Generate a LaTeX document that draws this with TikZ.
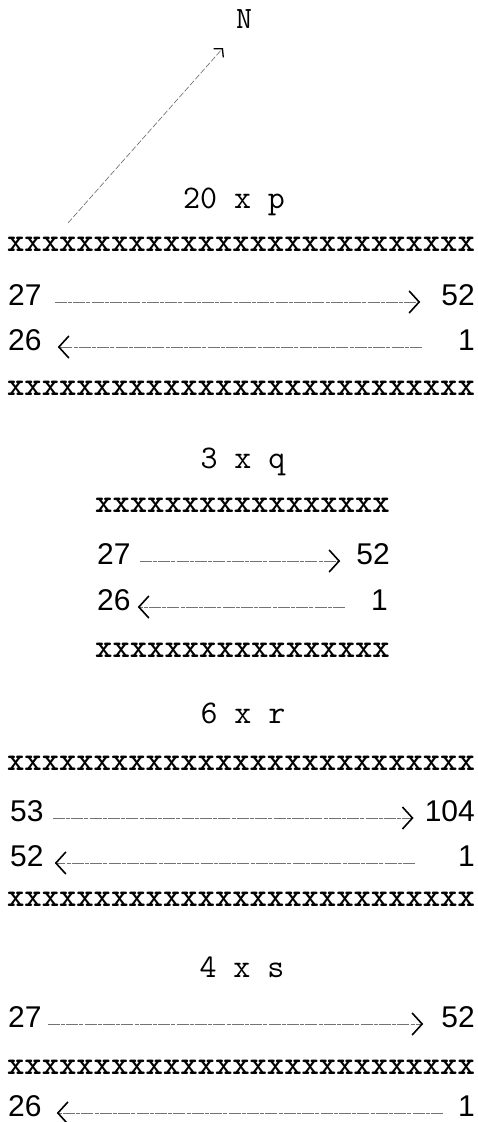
\documentclass[tikz,border=0pt]{standalone}
\usepackage{fontspec}
\newfontfamily\numfont{Liberation Sans}
\usetikzlibrary{arrows.meta}
\tikzset{
  xrow/.style={inner sep=0pt, font=\ttfamily\bfseries\fontsize{33}{34}\selectfont},
  title/.style={inner sep=0pt, anchor=base, font=\ttfamily\fontsize{33}{34}\selectfont},
  num/.style={inner sep=0pt, font=\numfont\fontsize{30}{32}\selectfont},
  flow/.style={line width=0.7pt, draw=black!55, dash pattern=on 12pt off 1.2pt on 4pt off 1.2pt,
    -{Straight Barb[length=10pt,width=22pt,line width=1.6pt,color=black]}},
  north/.style={line width=0.6pt, draw=black!60, dash pattern=on 6pt off 2pt,
    -{Straight Barb[length=6pt,width=13pt,line width=1.3pt,color=black]}}
}
\begin{document}
\begin{tikzpicture}[x=1pt,y=-1pt]
\useasboundingbox (0,0) rectangle (478,1122);
% north arrow
\node[inner sep=0pt, font=\ttfamily\fontsize{31}{32}\selectfont] (N) at (244,19) {N};
\coordinate (nTail) at (68,223);
\coordinate (nTip) at (223,48);
\draw[north] (nTail) -- (nTip);
% section p
\node[title] (tp) at (234,208) {20 x p};
\node[xrow] (x1) at (241,244) {xxxxxxxxxxxxxxxxxxxxxxxxxxx};
\node[num, anchor=west] (a27) at (8,295) {27};
\node[num, anchor=east] (a52) at (475,295) {52};
\node[num, anchor=west] (a26) at (8,340) {26};
\node[num, anchor=east] (a1) at (475,340) {1};
\node[xrow] (x2) at (241,388) {xxxxxxxxxxxxxxxxxxxxxxxxxxx};
\draw[flow, shorten <=13pt, shorten >=21pt] ([yshift=-7pt]a27.east) -- ([yshift=-7pt]a52.west);
\draw[flow, shorten <=36pt, shorten >=16pt] ([yshift=-7pt]a1.west) -- ([yshift=-7pt]a26.east);
% section q
\node[title] (tq) at (243,468) {3 x q};
\node[xrow] (x3) at (242.5,505) {xxxxxxxxxxxxxxxxx};
\node[num, anchor=west] (b27) at (97,554) {27};
\node[num, anchor=east] (b52) at (390,554) {52};
\node[num, anchor=west] (b26) at (97,600) {26};
\node[num, anchor=east] (b1) at (388,600) {1};
\node[xrow] (x4) at (242.5,650) {xxxxxxxxxxxxxxxxx};
\draw[flow, shorten <=9pt, shorten >=16pt] ([yshift=-7pt]b27.east) -- ([yshift=-7pt]b52.west);
\draw[flow, shorten <=26pt, shorten >=7pt] ([yshift=-7pt]b1.west) -- ([yshift=-7pt]b26.east);
% section r
\node[title] (tr) at (243,723) {6 x r};
\node[xrow] (x5) at (241,763) {xxxxxxxxxxxxxxxxxxxxxxxxxxx};
\node[num, anchor=west] (c53) at (10,811) {53};
\node[num, anchor=east] (c104) at (475,811) {104};
\node[num, anchor=west] (c52) at (10,856) {52};
\node[num, anchor=east] (c1) at (475,856) {1};
\node[xrow] (x6) at (241,899) {xxxxxxxxxxxxxxxxxxxxxxxxxxx};
\draw[flow, shorten <=9pt, shorten >=11pt] ([yshift=-7pt]c53.east) -- ([yshift=-7pt]c104.west);
\draw[flow, shorten <=43pt, shorten >=11pt] ([yshift=-7pt]c1.west) -- ([yshift=-7pt]c52.east);
% section s
\node[title] (ts) at (242,977) {4 x s};
\node[num, anchor=west] (d27) at (8,1017) {27};
\node[num, anchor=east] (d52) at (475,1017) {52};
\node[xrow] (x7) at (241,1067) {xxxxxxxxxxxxxxxxxxxxxxxxxxx};
\node[num, anchor=west] (d26) at (8,1106) {26};
\node[num, anchor=east] (d1) at (475,1106) {1};
\draw[flow, shorten <=6pt, shorten >=18pt] ([yshift=-7pt]d27.east) -- ([yshift=-7pt]d52.west);
\draw[flow, shorten <=15pt, shorten >=15pt] ([yshift=-7pt]d1.west) -- ([yshift=-7pt]d26.east);
\end{tikzpicture}
\end{document}
